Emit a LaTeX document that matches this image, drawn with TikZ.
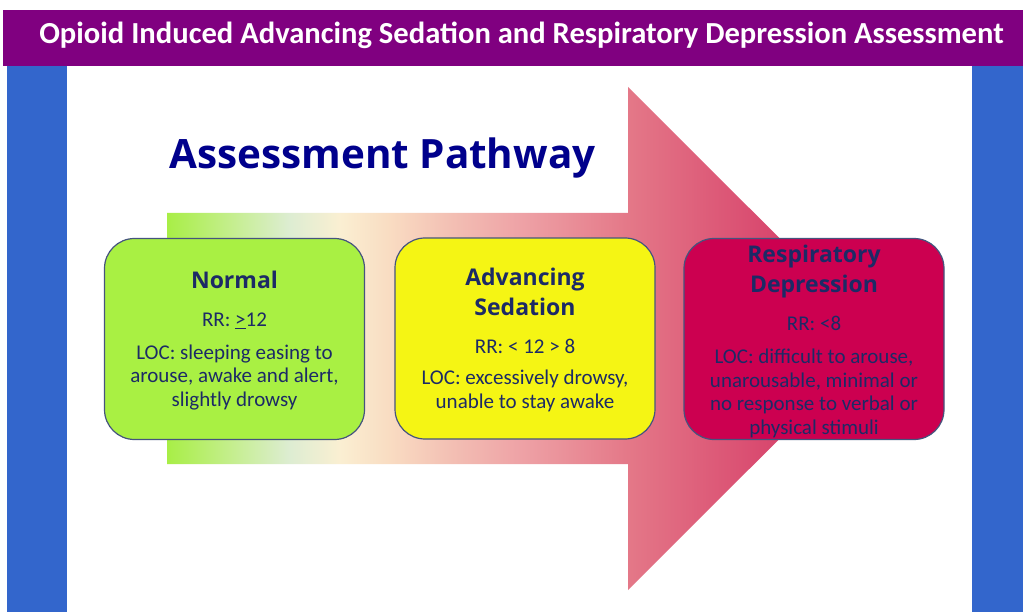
\documentclass[tikz,border=0pt]{standalone}
\usepackage{fontspec}
\setmainfont{Carlito}
\newfontfamily\headfont{Open Sans}

% palette
\definecolor{headpurple}{HTML}{800080}
\definecolor{sideblue}{HTML}{3366CC}
\definecolor{titlenavy}{HTML}{00008C}
\definecolor{inknavy}{HTML}{1C2A66}
\definecolor{edgegrey}{HTML}{45547E}
\definecolor{normalfill}{HTML}{A9F043}
\definecolor{sedationfill}{HTML}{F5F514}
\definecolor{depressfill}{HTML}{CC0050}
\definecolor{pgA}{HTML}{A8EE46}
\definecolor{pgB}{HTML}{C4EE8C}
\definecolor{pgC}{HTML}{DDEDD2}
\definecolor{pgD}{HTML}{FAEFD2}
\definecolor{pgE}{HTML}{F9DCC2}
\definecolor{pgF}{HTML}{F3C0B4}
\definecolor{pgG}{HTML}{EEA2A6}
\definecolor{pgH}{HTML}{E47888}
\definecolor{pgI}{HTML}{D94B70}
\definecolor{pgJ}{HTML}{D0305E}

% green -> cream -> crimson along the pathway arrow
\pgfdeclarehorizontalshading{pathwayshade}{100bp}{%
  color(0bp)=(pgA); color(25bp)=(pgA); color(29.4bp)=(pgB);
  color(33.6bp)=(pgC); color(37.1bp)=(pgD); color(40.6bp)=(pgE);
  color(44.8bp)=(pgF); color(49.8bp)=(pgG); color(57.3bp)=(pgH);
  color(66.6bp)=(pgI); color(75bp)=(pgJ); color(100bp)=(pgJ)}

\newcommand{\stagehead}[1]{{\headfont\bfseries\fontsize{23}{29}\selectfont #1}}

\tikzset{
  stagebox/.style={draw=edgegrey, line width=1.2pt, rounded corners=30pt,
    minimum width=260pt, minimum height=201pt, inner sep=0pt},
  stagetext/.style={text=inknavy, align=center, inner sep=0pt,
    font=\fontsize{21}{23.5}\selectfont},
}

\begin{document}
\begin{tikzpicture}[x=1pt,y=-1pt]
\useasboundingbox (0,0) rectangle (1023,612);
\fill[white] (0,0) rectangle (1023,612);

% banner and side bars
\fill[headpurple] (3,10) rectangle (1023,66);
\fill[sideblue] (7,66) rectangle (67,612);
\fill[sideblue] (972,66) rectangle (1023,612);
\node[text=white, font=\bfseries\fontsize{30.6}{34}\selectfont] (banner) at (521.5,35)
  {Opioid Induced Advancing Sedation and Respiratory Depression Assessment};

% the pathway arrow
\shade[shading=pathwayshade]
  (167,213) -- (628,213) -- (628,87) -- (880,338.5) -- (628,590)
  -- (628,464) -- (167,464) -- cycle;

\node[text=titlenavy, font=\headfont\bfseries\fontsize{40.4}{48}\selectfont]
  (title) at (382.5,158) {Assessment Pathway};

% stages
\node[stagebox, fill=normalfill] (normal) at (234.5,339) {};
\node[stagebox, fill=sedationfill] (sedation) at (525,338.5) {};
\node[stagebox, fill=depressfill] (depression) at (814,339) {};

\node[stagetext, anchor=center] (normaltext) at ([yshift=-1.5pt]normal.center)
  {\stagehead{Normal}\\[14.5pt]
   RR: \underline{>}12\\[9pt]
   LOC: sleeping easing to\\
   arouse, awake and alert,\\
   slightly drowsy};

\node[stagetext] (sedationtext) at ([yshift=-1.5pt]sedation.center)
  {\stagehead{Advancing}\\[6pt]
   \stagehead{Sedation}\\[14.5pt]
   RR: < 12 > 8\\[8pt]
   LOC: excessively drowsy,\\
   unable to stay awake};

\node[stagetext] (depressiontext) at ([yshift=-2.5pt]depression.center)
  {\stagehead{Respiratory}\\[6pt]
   \stagehead{Depression}\\[14.5pt]
   RR: <8\\[10pt]
   LOC: difficult to arouse,\\
   unarousable, minimal or\\
   no response to verbal or\\
   physical stimuli};
\end{tikzpicture}
\end{document}
